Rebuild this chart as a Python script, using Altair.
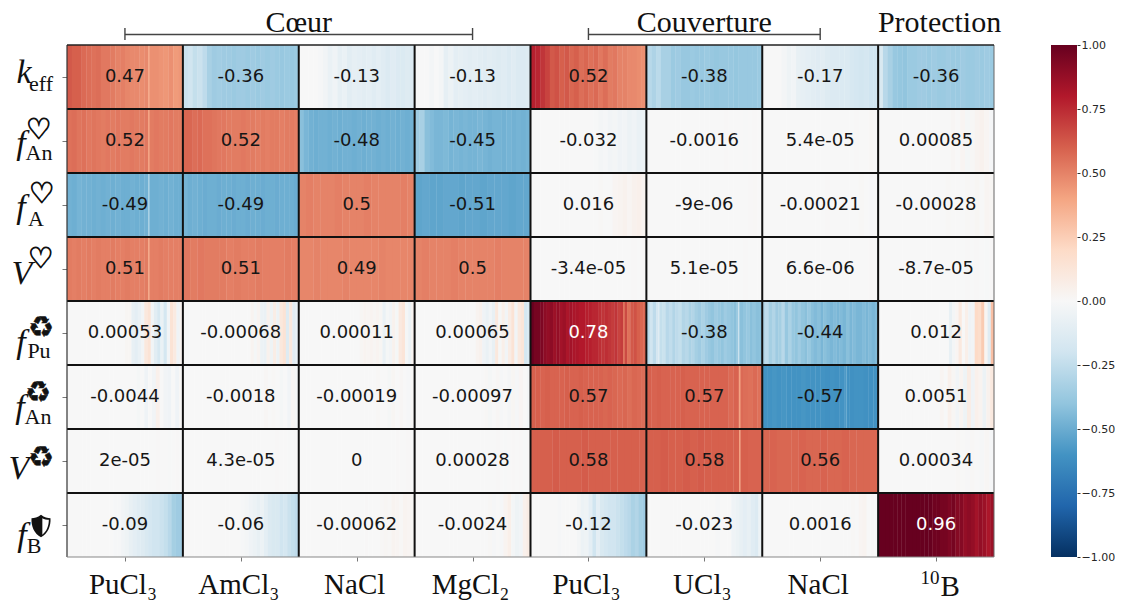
import altair as alt
import pandas as pd

COLUMNS = ["PuCl₃", "AmCl₃", "NaCl", "MgCl₂", "PuCl₃", "UCl₃", "NaCl", "B"]
ANNOT = [
    ["0.47", "-0.36", "-0.13", "-0.13", "0.52", "-0.38", "-0.17", "-0.36"],
    ["0.52", "0.52", "-0.48", "-0.45", "-0.032", "-0.0016", "5.4e-05", "0.00085"],
    ["-0.49", "-0.49", "0.5", "-0.51", "0.016", "-9e-06", "-0.00021", "-0.00028"],
    ["0.51", "0.51", "0.49", "0.5", "-3.4e-05", "5.1e-05", "6.6e-06", "-8.7e-05"],
    ["0.00053", "-0.00068", "0.00011", "0.00065", "0.78", "-0.38", "-0.44", "0.012"],
    ["-0.0044", "-0.0018", "-0.00019", "-0.00097", "0.57", "0.57", "-0.57", "0.0051"],
    ["2e-05", "4.3e-05", "0", "0.00028", "0.58", "0.58", "0.56", "0.00034"],
    ["-0.09", "-0.06", "-0.00062", "-0.0024", "-0.12", "-0.023", "0.0016", "0.96"],
]
STRIPES = [
    [
        [.62,.6,.6,.57,.56,.55,.56,.53,.53,.52,.5,.51,.49,.48,.48,.47,.48,.46,.46,.45,.44,.46,.43,.44],
        [-.22,-.2,-.24,-.22,-.26,-.33,-.36,-.35,-.36,-.36,-.37,-.36,-.36,-.37,-.36,-.37,-.36,-.37,-.36,-.37,-.38,-.37,-.38,-.37],
        [0,0,0,0,-.01,-.03,-.07,-.04,-.09,-.07,-.11,-.09,-.1,-.11,-.1,-.12,-.1,-.12,-.14,-.12,-.14,-.15,-.13,-.14],
        [0,0,0,-.02,0,-.02,-.09,-.06,-.1,-.09,-.1,-.11,-.1,-.11,-.12,-.11,-.12,-.13,-.12,-.14,-.12,-.14,-.14,-.13],
        [.78,.76,.72,.68,.62,.64,.6,.62,.58,.6,.56,.58,.55,.57,.53,.56,.52,.53,.5,.5,.48,.48,.47,.46],
        [-.28,-.31,-.27,-.33,-.33,-.37,-.36,-.38,-.38,-.37,-.38,-.38,-.37,-.38,-.39,-.38,-.38,-.38,-.39,-.38,-.38,-.38,-.38,-.37],
        [0,0,0,0,-.02,-.05,-.03,-.08,-.09,-.1,-.11,-.12,-.11,-.13,-.14,-.14,-.15,-.15,-.17,-.18,-.19,-.18,-.2,-.2],
        [-.16,-.28,-.33,-.38,-.39,-.4,-.37,-.37,-.36,-.36,-.37,-.36,-.37,-.37,-.36,-.37,-.37,-.36,-.37,-.37,-.36,-.37,-.36,-.37],
    ],
    [
        [.55,.56,.54,.55,.53,.54,.53,.52,.53,.52,.53,.52,.52,.53,.52,.52,.53,.52,.53,.52,.52,.53,.52,.52],
        [.58,.58,.56,.57,.55,.55,.54,.53,.53,.52,.52,.52,.53,.52,.52,.51,.52,.51,.52,.52,.51,.52,.52,.51],
        [-.42,-.46,-.48,-.49,-.48,-.48,-.49,-.48,-.49,-.48,-.48,-.49,-.48,-.49,-.48,-.48,-.49,-.48,-.49,-.48,-.49,-.48,-.49,-.48],
        [-.36,-.33,-.42,-.44,-.46,-.46,-.45,-.47,-.46,-.47,-.46,-.47,-.47,-.46,-.47,-.48,-.47,-.47,-.48,-.47,-.48,-.47,-.48,-.47],
        [0,0,0,0,0,0,0,0,0,0,0,0,0,-.005,-.02,-.01,-.03,-.02,-.04,-.03,-.06,-.04,-.07,-.06],
        [0,0,0,0,0,0,0,0,0,0,0,0,0,0,0,0,.006,0,0,0,-.005,0,.005,0],
        [0,0,0,0,0,0,0,0,0,0,0,0,0,0,0,0,0,0,0,.006,0,0,.008,0],
        [0,0,0,0,0,0,0,0,0,0,0,0,0,0,0,.012,0,.02,-.015,.008,.03,.04,.02,-.012],
    ],
    [
        [-.48,-.49,-.47,-.48,-.48,-.49,-.48,-.49,-.48,-.49,-.48,-.49,-.49,-.48,-.49,-.49,-.48,-.49,-.49,-.48,-.49,-.48,-.49,-.49],
        [-.47,-.49,-.48,-.49,-.5,-.49,-.49,-.5,-.49,-.49,-.5,-.49,-.49,-.5,-.49,-.49,-.5,-.49,-.49,-.5,-.49,-.49,-.49,-.5],
        [.5,.51,.5,.5,.5,.51,.5,.5,.5,.51,.5,.5,.5,.5,.51,.5],
        [-.53,-.52,-.53,-.53,-.52,-.52,-.53,-.52,-.52,-.53,-.52,-.52,-.52,-.53,-.52,-.52],
        [0,0,0,0,0,0,0,0,0,0,0,0,0,0,.01,0,0,.02,.03,.04,.02,.04,.05,.03],
        [0,0,0,0,0,0,0,0,0,0,0,0,0,0,0,0,0,0,0,0,0,.005,.01,0],
        [0,0,0,0,0,0,0,0,0,0,0,0,0,.006,0,0,0,0,0,0,.008,0,-.006,0],
        [0,0,0,0,0,0,0,0,0,0,0,0,0,0,.01,0,0,0,.01,.006,.015,0,.02,.015],
    ],
    [
        [.52,.51,.52,.51,.52,.51,.52,.51,.51,.52,.51,.51,.52,.51,.51,.51,.52,.51,.51,.52,.51,.51,.51,.51],
        [.53,.52,.53,.52,.52,.52,.51,.52,.51,.51,.52,.51,.51,.51,.52,.51],
        [.49,.49,.5,.49,.49,.49,.5,.49,.49,.49,.49,.5,.49,.49,.49,.49],
        [.5,.51,.5,.5,.5,.51,.5,.5,.5,.5,.5,.51,.5,.5,.5,.5],
        [0,0,0,0,0,0,0,0,0,0,0,0,0,0,0,0,0,0,0,0,0,.005,0,.006],
        [0,0,0,0,0,0,0,0,0,0,0,0,0,0,0,0,0,0,0,0,.006,0,0,0],
        [0,0,0,0,0,0,0,0,0,0,0,0,0,0,0,0,0,0,0,0,0,0,.005,0],
        [0,0,0,0,0,0,0,0,0,0,0,0,0,0,0,0,0,0,.005,0,.006,0,-.005,.006],
    ],
    [
        [0,0,0,0,0,0,0,0,0,0,0,0,0,0,0,0,0,0,.015,.015,-.08,-.1,-.07,-.03,.11,.14,-.03,-.11,-.17,-.07,-.18,-.03,.14,.09,-.04,.03],
        [0,0,0,0,0,0,0,0,0,0,0,0,0,0,0,0,0,0,0,0,0,.03,-.015,.03,-.06,-.07,.04,-.05,.07,-.06,.11,.14,-.13,.11,-.11,-.07],
        [0,0,0,0,0,0,0,0,0,0,0,0,0,0,0,0,0,0,0,.015,.03,.02,.03,.015,.03,.015,-.07,-.015,-.03,.04,-.015,.1,.13,-.015,-.06,.03],
        [0,0,0,0,0,0,0,0,0,0,0,0,0,0,0,0,0,0,0,.03,.04,-.04,-.07,-.03,-.08,.11,-.015,.06,-.03,.08,.14,-.03,.1,.13,-.18,-.16],
        [1.0,.96,.96,.94,.9,.88,.9,.86,.88,.84,.86,.82,.84,.82,.82,.8,.8,.78,.78,.76,.76,.74,.72,.74,.72,.7,.72,.68,.7,.66,.55,.62,.64,.6,.58,.58],
        [-.28,-.2,-.26,-.18,-.24,-.22,-.28,-.25,-.3,-.26,-.24,-.3,-.28,-.32,-.3,-.34,-.36,-.32,-.36,-.38,-.4,-.36,-.38,-.4,-.36,-.38,-.4,-.42,-.38,-.42,-.4,-.38,-.42,-.4,-.42,-.42],
        [-.3,-.26,-.34,-.3,-.36,-.34,-.28,-.38,-.32,-.38,-.4,-.36,-.4,-.42,-.38,-.42,-.44,-.42,-.46,-.42,-.44,-.46,-.44,-.46,-.44,-.46,-.42,-.46,-.44,-.46,-.46,-.44,-.46,-.44,-.46,-.44],
        [0,0,0,0,0,0,0,0,0,0,0,0,0,0,0,0,0,0,0,0,0,0,-.08,-.02,.02,.1,0,.06,-.04,-.03,.2,.18,.26,.02,-.12,.3],
    ],
    [
        [0,0,0,0,0,0,0,0,0,0,0,0,0,0,0,0,0,0,-.015,0,-.04,0,-.03,.05,0,-.03,-.04,0,-.04,.01],
        [0,0,0,0,0,0,0,0,0,0,0,0,0,0,0,0,0,0,0,0,0,.012,0,.01,0,-.015,0,-.03,.015,-.015],
        [0,0,0,0,0,0,0,0,0,0,0,0,0,0,0,0,0,0,0,0,.01,0,0,-.015,.015,0,.012,0,-.012,.01],
        [0,0,0,0,0,0,0,0,0,0,0,0,0,0,0,0,0,0,.008,-.015,0,.012,-.012,0,-.018,.015,-.01,.018,0,-.02],
        [.6,.6,.59,.6,.59,.59,.59,.6,.59,.59,.6,.59,.59,.59,.59,.58,.59,.58,.57,.58,.56,.58,.57,.56],
        [.6,.59,.6,.59,.59,.59,.59,.6,.59,.59,.59,.59,.59,.59,.59,.59,.59,.57,.59,.57,.56,.55,.57,.55],
        [-.6,-.6,-.59,-.6,-.59,-.6,-.6,-.6,-.59,-.6,-.6,-.6,-.6,-.61,-.6,-.61,-.6,-.61,-.61,-.6,-.6,-.61,-.61,-.6],
        [0,0,0,0,0,0,0,0,0,0,0,0,0,0,0,0,.02,0,.05,.015,-.03,.03,-.05,.08,-.04,.05,.03,-.06,.04,.1],
    ],
    [
        [0,0,0,0,0,0,0,0,0,0,0,0,0,0,0,0,0,0,0,0,0,0,0,.005,0,0,-.005,0,.005,0],
        [0,0,0,0,0,0,0,0,0,0,0,0,0,0,0,0,0,0,0,0,0,0,0,0,.005,0,0,-.005,0,0],
        [0,0,0,0,0,0,0,0,0,0,0,0,0,0,0,0,0,0,0,0,0,0,0,0,0,.005,0,0,.005,0],
        [0,0,0,0,0,0,0,0,0,0,0,0,0,0,0,0,0,0,0,0,0,.005,0,-.005,0,.006,0,.006,-.005,.005],
        [.6,.6,.6,.61,.6,.6,.6,.61,.6,.6,.6,.6,.6,.6,.6,.59],
        [.6,.6,.61,.6,.6,.61,.6,.61,.6,.6,.6,.6,.6,.6,.59,.59],
        [.58,.59,.58,.58,.58,.59,.58,.58,.59,.58,.58,.59,.58,.58,.58,.58],
        [0,0,0,0,0,0,0,0,0,0,0,0,0,0,0,0,.008,0,-.006,.01,0,-.01,.012,-.008],
    ],
    [
        [0,0,0,0,0,0,0,0,0,0,0,0,-.01,-.01,-.03,-.05,-.08,-.1,-.12,-.13,-.16,-.18,-.2,-.2,-.22,-.24,-.28,-.34,-.36,-.36],
        [0,0,0,0,0,0,0,0,0,0,0,0,0,0,0,-.01,-.02,-.04,-.06,-.08,-.06,-.1,-.14,-.16,-.16,-.2,-.18,-.22,-.24,-.26],
        [0,0,0,0,0,0,0,0,0,0,0,0,0,0,0,0,0,.006,0,0,0,.01,.015,.008,.03,.02,.01,.03,.02,.015],
        [0,0,0,0,0,0,0,0,0,0,0,0,0,0,0,0,0,0,0,.01,-.01,0,-.008,.03,.06,-.02,-.05,-.03,.05,.08],
        [0,0,0,0,0,0,0,-.01,0,0,0,0,-.02,-.06,-.05,-.1,-.2,-.1,-.16,-.18,-.2,-.2,-.22,-.24,-.26,-.28,-.32,-.3,-.34,-.36],
        [0,0,0,0,0,0,0,0,0,0,0,0,0,0,0,0,0,0,-.01,0,0,0,-.04,-.06,-.08,-.1,-.08,-.12,-.14,-.06],
        [0,0,0,0,0,0,0,0,0,0,0,0,0,0,0,0,0,0,0,0,0,0,0,.008,0,.02,.03,0,.006,0],
        [1.0,1,1,1,1,1,1,1,1,1,1,1,1,1,.98,.98,.96,.96,.94,.96,.92,.92,.88,.9,.88,.84,.88,.86,.82,.86],
    ],
]
# thin bright lines: row, column, position within the cell, value
THIN_ROW = [0, 1, 2, 3, 4, 5, 6, 5, 4, 4]
THIN_COL = [0, 0, 0, 0, 5, 5, 5, 6, 4, 5]
THIN_POS = [.70, .70, .70, .70, .79, .80, .80, .72, .80, .10]
THIN_VAL = [.36, .38, -.3, .36, -.22, .38, .38, -.5, .5, -.12]

MAIN = ["k", "f", "f", "V", "f", "f", "V", "f"]
SUBS = ["eff", "An", "A", "", "Pu", "An", "", "B"]
ICONS = ["", "♡", "♡", "♡", "♻", "♻", "♻", ""]
GROUPS = ["Cœur", "Couverture", "Protection"]
TICKS = [-1, -.75, -.5, -.25, 0, .25, .5, .75, 1]
PALETTE = ["#053061", "#2166ac", "#4393c3", "#92c5de", "#d1e5f0", "#f7f7f7",
           "#fddbc7", "#f4a582", "#d6604d", "#b2182b", "#67001f"]
STOPS = [-1, -.8, -.6, -.4, -.2, 0, .2, .4, .6, .8, 1]

W, H = 927, 512
XS = alt.Scale(domain=[0, 8], nice=False, zero=False)
YS = alt.Scale(domain=[8, 0], nice=False, zero=False)
CS = alt.Scale(domain=STOPS, range=PALETTE, interpolate="rgb", clamp=True)

rows = []
for r, row in enumerate(STRIPES):
    for c, vals in enumerate(row):
        n = len(vals)
        for i, v in enumerate(vals):
            rows.append({"x0": c + i / n, "x1": min(c + 1, c + (i + 1) / n + .003),
                         "r0": r, "r1": r + 1, "v": v})
for r, c, p, v in zip(THIN_ROW, THIN_COL, THIN_POS, THIN_VAL):
    rows.append({"x0": c + p, "x1": c + p + .012, "r0": r, "r1": r + 1, "v": v})
cells = pd.DataFrame(rows)

heat = alt.Chart(cells).mark_rect(strokeWidth=0).encode(
    x=alt.X("x0:Q", scale=XS, axis=alt.Axis(values=[i + .5 for i in range(8)], labels=False, title=None,
                                            grid=False, domain=False, tickSize=4, tickColor="#777", tickWidth=1)),
    x2="x1:Q",
    y=alt.Y("r0:Q", scale=YS, axis=alt.Axis(values=[i + .5 for i in range(8)], labels=False, title=None,
                                            grid=False, domain=False, tickSize=5, tickColor="#777", tickWidth=1)),
    y2="r1:Q",
    color=alt.Color("v:Q", scale=CS, legend=None),
)

inner = list(range(1, 8))
vgrid = alt.Chart(pd.DataFrame({"x": inner})).mark_rule(color="#111", strokeWidth=2).encode(
    x=alt.X("x:Q", scale=XS), y=alt.value(0), y2=alt.value(H))
hgrid = alt.Chart(pd.DataFrame({"y": inner})).mark_rule(color="#111", strokeWidth=2).encode(
    y=alt.Y("y:Q", scale=YS), x=alt.value(0), x2=alt.value(W))
edge_left = alt.Chart(pd.DataFrame({"x": [0]})).mark_rule(color="#333", strokeWidth=1.2).encode(
    x=alt.X("x:Q", scale=XS), y=alt.value(0), y2=alt.value(H))
edge_right = alt.Chart(pd.DataFrame({"x": [8]})).mark_rule(color="#666", strokeWidth=1).encode(
    x=alt.X("x:Q", scale=XS), y=alt.value(0), y2=alt.value(H))
edge_top = alt.Chart(pd.DataFrame({"y": [0]})).mark_rule(color="#222", strokeWidth=1.4).encode(
    y=alt.Y("y:Q", scale=YS), x=alt.value(0), x2=alt.value(W))
edge_bot = alt.Chart(pd.DataFrame({"y": [8]})).mark_rule(color="#888", strokeWidth=1.2).encode(
    y=alt.Y("y:Q", scale=YS), x=alt.value(0), x2=alt.value(W))

ann = pd.DataFrame([
    {"c": c + .5, "r": r + .5, "t": t, "ink": "#ffffff" if abs(float(t)) > .7 else "#161616"}
    for r, row in enumerate(ANNOT) for c, t in enumerate(row)
])
annot = alt.Chart(ann).mark_text(font="DejaVu Sans", fontSize=18, baseline="middle", align="center").encode(
    x=alt.X("c:Q", scale=XS), y=alt.Y("r:Q", scale=YS), text="t:N", color=alt.Color("ink:N", scale=None))

cols = pd.DataFrame({"c": [i + .5 for i in range(7)], "t": COLUMNS[:7]})
xlabels = alt.Chart(cols).mark_text(font="Liberation Serif", fontSize=29, color="#111", baseline="middle", dx=-2).encode(
    x=alt.X("c:Q", scale=XS), y=alt.value(H + 28), text="t:N")
boron = alt.Chart(pd.DataFrame({"c": [7.5], "t": [COLUMNS[7]]})).mark_text(
    font="Liberation Serif", fontSize=29, color="#111", baseline="middle", dx=14).encode(
    x=alt.X("c:Q", scale=XS), y=alt.value(H + 30), text="t:N")
iso = alt.Chart(pd.DataFrame({"c": [7.5], "t": ["10"]})).mark_text(
    font="Liberation Serif", fontSize=19, color="#111", baseline="middle", dx=-6).encode(
    x=alt.X("c:Q", scale=XS), y=alt.value(H + 21), text="t:N")

def part(text, r, ax, ay, font, size, style="normal", stroke=0):
    kw = {"stroke": "#111", "strokeWidth": stroke} if stroke else {}
    return alt.Chart(pd.DataFrame({"r": [r + .5], "t": [text]})).mark_text(
        font=font, fontSize=size, fontStyle=style, color="#111", align="center", baseline="middle",
        dy=ay - (44 + (r + .5) * 64), **kw
    ).encode(x=alt.value(ax - 67), y=alt.Y("r:Q", scale=YS), text="t:N")

# centre of each label part in page pixels: (main x, main y, sub x, sub y, icon x, icon y)
PLACES = [
    (24, 72, 41, 83, 0, 0),
    (21, 143, 39, 152, 39, 129),
    (21, 207, 36, 218, 42, 193),
    (22, 273, 0, 0, 41, 258),
    (21, 342, 39, 350, 41, 327),
    (20, 407, 38, 416, 38, 392),
    (19, 468, 0, 0, 41, 457),
    (22, 535, 34, 545, 41, 525),
]
ylabels = []
for r, (mx, my, sx, sy, ix, iy) in enumerate(PLACES):
    ylabels.append(part(MAIN[r], r, mx, my, "Liberation Serif", 34, "italic"))
    if SUBS[r]:
        ylabels.append(part(SUBS[r], r, sx, sy, "Liberation Serif", 22))
    if ICONS[r]:
        ylabels.append(part(ICONS[r], r, ix, iy, "DejaVu Sans", 29, stroke=.9 if ICONS[r] == "♡" else .5))

SHIELD = "M0,-1 C0.3,-0.75 0.6,-0.7 0.85,-0.7 C0.9,0 0.6,0.7 0,1 C-0.6,0.7 -0.9,0 -0.85,-0.7 C-0.6,-0.7 -0.3,-0.75 0,-1 Z"
SHIELD_R = "M0.12,-0.7 C0.3,-0.6 0.5,-0.55 0.7,-0.55 C0.7,0 0.5,0.5 0.12,0.78 Z"
shield_df = pd.DataFrame({"r": [7.5]})
shield_out = alt.Chart(shield_df).mark_point(shape=SHIELD, filled=True, fill="#111", size=500, opacity=1).encode(
    x=alt.value(41 - 67), y=alt.Y("r:Q", scale=YS), yOffset=alt.value(1))
shield_in = alt.Chart(shield_df).mark_point(shape=SHIELD_R, filled=True, fill="white", size=500, opacity=1).encode(
    x=alt.value(41 - 67), y=alt.Y("r:Q", scale=YS), yOffset=alt.value(1))

brackets = pd.DataFrame({"a": [.5, 4.5], "b": [3.5, 6.5]})
br_h = alt.Chart(brackets).mark_rule(color="#444", strokeWidth=1.4).encode(
    x=alt.X("a:Q", scale=XS), x2="b:Q", y=alt.value(-10.5))
ends = pd.DataFrame({"a": [.5, 3.5, 4.5, 6.5]})
br_v = alt.Chart(ends).mark_rule(color="#444", strokeWidth=1.4).encode(
    x=alt.X("a:Q", scale=XS), y=alt.value(-17), y2=alt.value(-5))
group_df = pd.DataFrame({"c": [2, 5.5, 7.53], "t": GROUPS})
group_txt = alt.Chart(group_df).mark_text(font="Liberation Serif", fontSize=30, color="#111", baseline="alphabetic").encode(
    x=alt.X("c:Q", scale=XS), y=alt.value(-13), text="t:N")

main = alt.layer(heat, vgrid, hgrid, edge_left, edge_right, edge_top, edge_bot, annot, xlabels, boron, iso,
                 *ylabels, shield_out, shield_in, br_h, br_v, group_txt).properties(width=W, height=H)

grad = alt.LinearGradient(
    gradient="linear",
    stops=[alt.GradientStop(offset=(s + 1) / 2, color=c) for s, c in zip(STOPS, PALETTE)],
    x1=0, x2=0, y1=1, y2=0,
)
bar = alt.Chart(pd.DataFrame({"lo": [-1], "hi": [1]})).mark_rect(fill=grad).encode(
    x=alt.value(0), x2=alt.value(26),
    y=alt.Y("lo:Q", scale=alt.Scale(domain=[-1, 1], nice=False),
            axis=alt.Axis(orient="right", values=TICKS, title=None, grid=False, domain=False,
                          tickSize=3, tickColor="#333", labelFont="DejaVu Sans", labelFontSize=11,
                          labelColor="#262626", labelPadding=1,
                          labelExpr="replace(format(datum.value, '.2f'), '-', '−')")),
    y2="hi:Q",
).properties(width=26, height=H)

chart = alt.hconcat(main, bar, spacing=49).configure_view(stroke=None).properties(
    padding={"left": 0, "top": 0, "right": 0, "bottom": 0}, background="white")
chart.save("out.html", embed_options={"renderer": "svg", "actions": False})
